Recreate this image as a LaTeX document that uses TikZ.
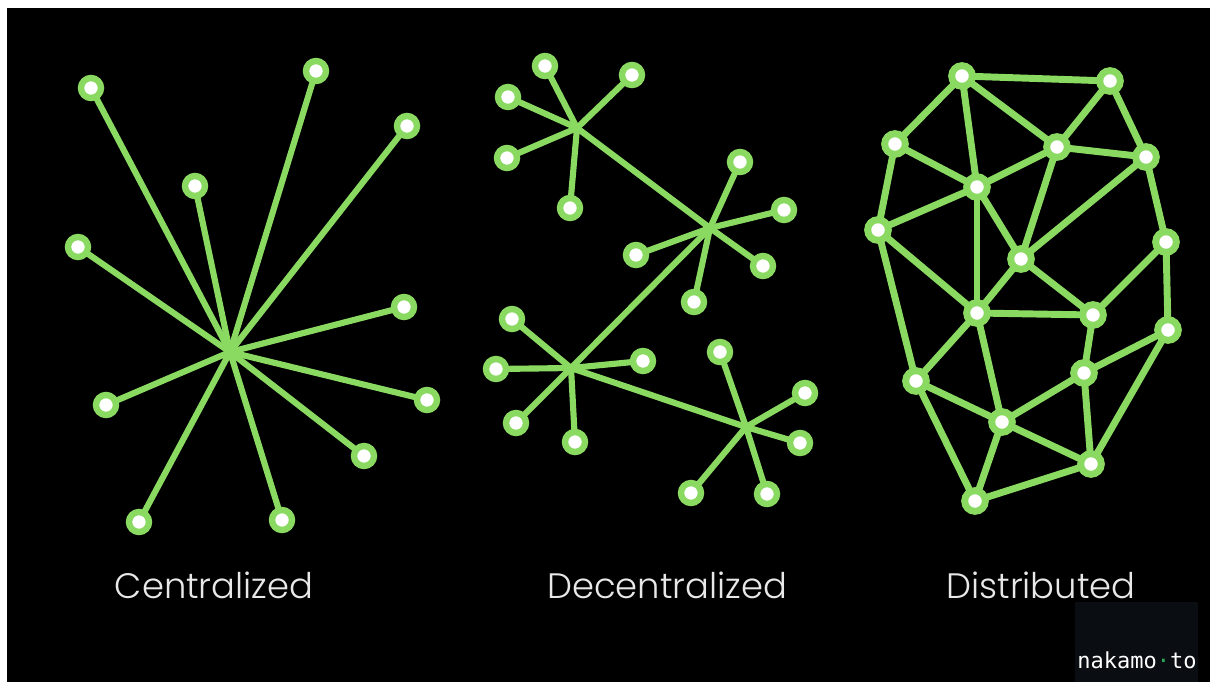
\documentclass[tikz,border=0pt]{standalone}
\usepackage{fontspec}
\setmainfont{Poppins}[UprightFont={* Light}]
\newfontfamily\logofont{DejaVu Sans Mono}
\definecolor{leafgreen}{RGB}{138,218,98}
\definecolor{captiongray}{RGB}{232,232,232}
\definecolor{logobg}{RGB}{10,13,17}
\definecolor{logodot}{RGB}{40,170,90}
\pgfdeclarelayer{canvas}
\pgfdeclarelayer{links}
\pgfsetlayers{canvas,links,main}
\tikzset{
  leaf/.style={circle, fill=white, draw=leafgreen, line width=4.8pt, minimum size=15pt, inner sep=0pt},
  peer/.style={circle, fill=white, draw=leafgreen, line width=5.2pt, minimum size=15.5pt, inner sep=0pt},
  link/.style={draw=leafgreen, line width=4.6pt, line cap=round},
  mesh/.style={draw=leafgreen, line width=5.2pt, line cap=round},
  caption/.style={text=captiongray, font=\fontsize{26.5}{30}\selectfont, anchor=base},
}
\begin{document}
\begin{tikzpicture}[x=0.75pt,y=-0.75pt]
\useasboundingbox (0,0) rectangle (1210,682);
\begin{pgfonlayer}{canvas}
  \fill[white] (0,0) rectangle (1210,682);
  \fill[black] (7,8) rectangle (1210,682);
  \fill[logobg] (1075,602) rectangle (1198,682);
\end{pgfonlayer}

% ---------- Centralized: one hub, every leaf tied to it ----------
\coordinate (c0) at (230,352);
\foreach \n/\x/\y in {1/91/88, 2/316/71, 3/407/126, 4/195/186, 5/78/247, 6/404/307,
                      7/106/405, 8/427/400, 9/364/456, 10/139/522, 11/282/520}
  \node[leaf] (c\n) at (\x,\y) {};
\begin{pgfonlayer}{links}
  \foreach \n in {1,...,11} \draw[link] (c0) -- (c\n.center);
\end{pgfonlayer}

% ---------- Decentralized: four hubs with their own leaves ----------
\coordinate (ha) at (577,128);
\coordinate (hb) at (710,228);
\coordinate (hc) at (571,368);
\coordinate (hd) at (746,427);
\foreach \n/\x/\y in {1/545/66, 2/632/75, 3/508/97, 4/507/158, 5/570/208}
  \node[leaf] (a\n) at (\x,\y) {};
\foreach \n/\x/\y in {1/740/162, 2/784/210, 3/636/255, 4/763/266, 5/694/302}
  \node[leaf] (b\n) at (\x,\y) {};
\foreach \n/\x/\y in {1/512/319, 2/496/369, 3/643/361, 4/516/423, 5/575/442}
  \node[leaf] (e\n) at (\x,\y) {};
\foreach \n/\x/\y in {1/720/352, 2/805/393, 3/800/443, 4/691/493, 5/767/494}
  \node[leaf] (d\n) at (\x,\y) {};
\begin{pgfonlayer}{links}
  \foreach \n in {1,...,5} {
    \draw[link] (ha) -- (a\n.center);
    \draw[link] (hb) -- (b\n.center);
    \draw[link] (hc) -- (e\n.center);
    \draw[link] (hd) -- (d\n.center);
  }
  \draw[link] (ha) -- (hb) -- (hc) -- (hd);
\end{pgfonlayer}

% ---------- Distributed: a mesh of peers ----------
\foreach \n/\x/\y in {1/962/76, 2/1110/81, 3/895/144, 4/1057/147, 5/1146/157,
                      6/977/187, 7/878/230, 8/1021/259, 9/1166/242, 10/977/313,
                      11/1093/315, 12/1168/330, 13/916/381, 14/1084/373,
                      15/1002/422, 16/1091/464, 17/975/501}
  \node[peer] (p\n) at (\x,\y) {};
\begin{pgfonlayer}{links}
  \foreach \a/\b in {1/2, 1/3, 1/6, 1/4, 2/4, 2/5, 3/6, 3/7, 4/5, 4/6, 4/8, 5/8,
                     5/9, 6/7, 6/8, 6/10, 7/10, 7/13, 8/10, 8/11, 9/11, 9/12,
                     10/11, 10/13, 10/15, 11/14, 12/14, 12/16, 13/15, 13/17,
                     14/15, 14/16, 15/16, 15/17, 16/17}
    \draw[mesh] (p\a.center) -- (p\b.center);
\end{pgfonlayer}

% ---------- Captions ----------
\node[caption] (tc) at (214,598) {Centralized};
\node[caption] (td) at (667,598) {Decentralized};
\node[caption] (tx) at (1041,598) {Distributed};

% ---------- Logo ----------
\node[anchor=base, text=white, font=\logofont\fontsize{16.5}{19}\selectfont, inner sep=0pt]
  (logo) at (1137,668) {nakamo\textcolor{logodot}{·}to};
\end{tikzpicture}
\end{document}
